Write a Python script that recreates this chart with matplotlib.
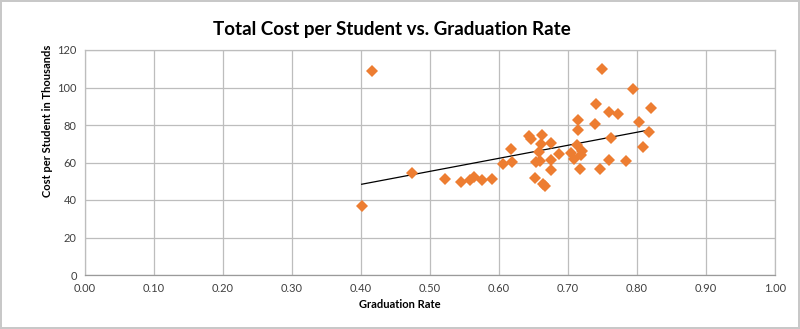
import matplotlib.pyplot as plt
import numpy as np

# graduation rate vs total cost per student (thousands)
grad_rate = [0.401, 0.416, 0.474, 0.522, 0.545, 0.558, 0.564, 0.576, 0.590, 0.606,
             0.617, 0.619, 0.644, 0.647, 0.663, 0.661, 0.675, 0.658, 0.687, 0.653,
             0.659, 0.675, 0.675, 0.652, 0.664, 0.666, 0.713, 0.704, 0.708, 0.721,
             0.719, 0.717, 0.715, 0.715, 0.739, 0.746, 0.749, 0.794, 0.741, 0.760,
             0.773, 0.821, 0.803, 0.818, 0.762, 0.809, 0.759, 0.784]
cost = [37.0, 108.8, 54.2, 51.2, 49.4, 50.8, 52.3, 50.7, 51.2, 59.2,
        67.3, 60.3, 74.1, 72.7, 74.5, 69.9, 70.6, 65.4, 64.4, 60.1,
        60.6, 61.1, 56.0, 52.0, 48.8, 47.6, 69.3, 64.9, 61.7, 66.3,
        63.8, 56.8, 82.7, 77.3, 80.4, 56.8, 109.9, 99.4, 91.2, 86.8,
        85.9, 88.9, 81.4, 76.1, 73.2, 68.1, 61.3, 60.9]

xticks = np.arange(0, 1.01, 0.1)
yticks = np.arange(0, 121, 20)

plt.rcParams['font.family'] = ['Lato', 'DejaVu Sans']

fig = plt.figure(figsize=(8.0, 3.29), dpi=100)
fig.patch.set_edgecolor('#c8c8c8')
fig.patch.set_linewidth(1.5)
ax = fig.add_axes([85 / 800, 1 - 275 / 329, 690 / 800, 225 / 329])

ax.plot(grad_rate, cost, 'D', color='#ED7D31', markersize=6.5, markeredgewidth=0, zorder=3)

# linear trendline
m, b = np.polyfit(grad_rate, cost, 1)
tx = np.array([min(grad_rate), max(grad_rate)])
ax.plot(tx, m * tx + b, color='black', linewidth=0.9, zorder=2)

ax.set_xlim(0, 1)
ax.set_ylim(0, 120)
ax.set_xticks(xticks)
ax.set_xticklabels(['%.2f' % v for v in xticks])
ax.set_yticks(yticks)
ax.grid(True, color='#bdbdbd', linewidth=0.9)
ax.set_axisbelow(True)
for s in ax.spines.values():
    s.set_color('#bdbdbd')
    s.set_linewidth(0.9)
ax.spines['bottom'].set_color('#9a9a9a')
ax.tick_params(length=0, labelsize=8, colors='#404040', pad=6)

fig.text(392 / 800, 1 - 30 / 329, 'Total Cost per Student vs. Graduation Rate',
         ha='center', va='center', fontsize=13.5, fontweight='bold')
fig.text(0.5, 1 - 305 / 329, 'Graduation Rate', ha='center', va='center',
         fontsize=8, fontweight='bold')
fig.text(48 / 800, 1 - 121 / 329, 'Cost per Student in Thousands', ha='center',
         va='center', rotation=90, fontsize=8, fontweight='bold')

fig.savefig('out.png', dpi=100, edgecolor=fig.get_edgecolor())
